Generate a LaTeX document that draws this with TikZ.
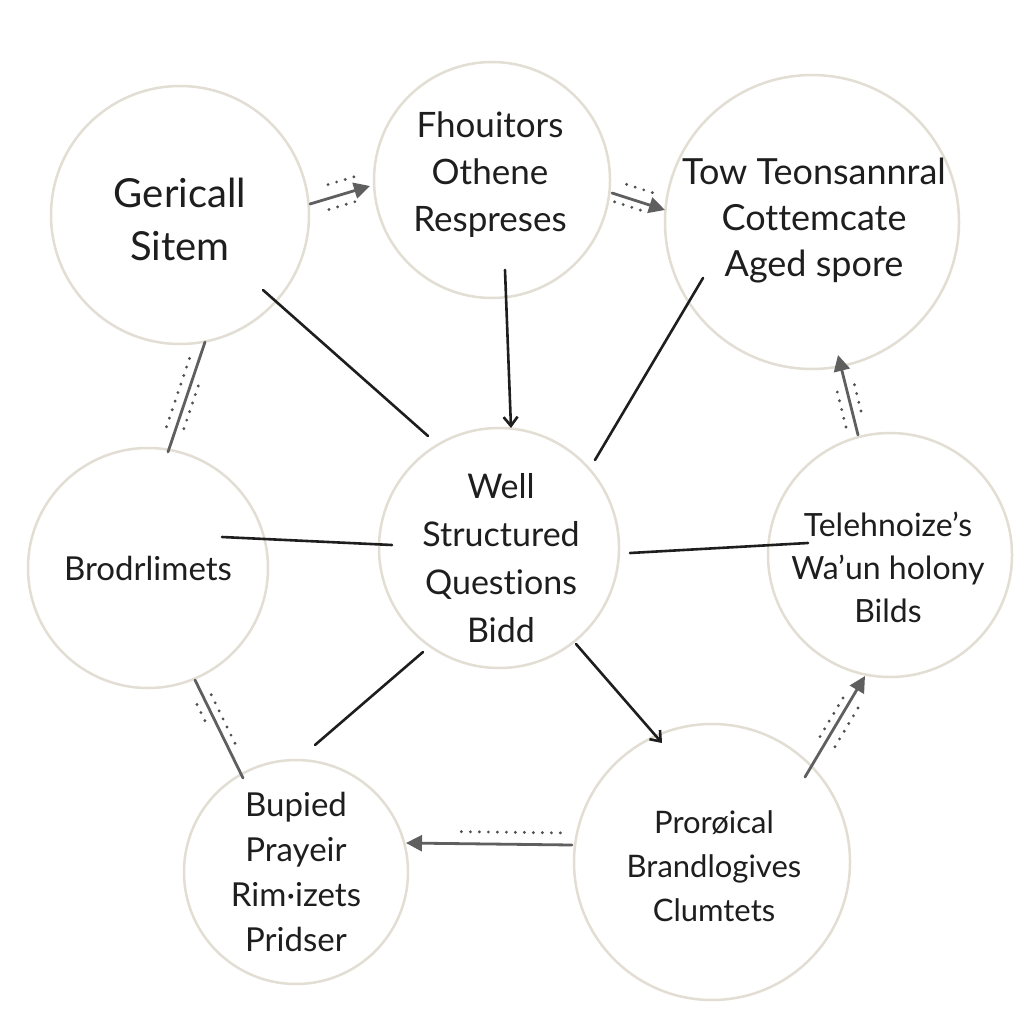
\documentclass[tikz,border=0pt]{standalone}
\usepackage{fontspec}
\setmainfont{Lato}[Ligatures=NoCommon]
\usetikzlibrary{arrows.meta,calc}
\definecolor{ring}{RGB}{226,222,212}
\definecolor{ink}{RGB}{30,30,30}
\definecolor{grayln}{RGB}{95,95,95}
\tikzset{
  bubble/.style={circle, draw=ring, line width=2.5pt, fill=white, inner sep=0pt},
  txt/.style={align=center, text=ink, inner sep=0pt},
  blk/.style={draw=ink, line width=2.6pt, line cap=round},
  gry/.style={draw=grayln, line width=2.8pt, line cap=round},
  dots/.style={draw=grayln!85!black, line width=3.2pt, line cap=round, dash pattern=on 0pt off 9pt},
  tipb/.style={-{Straight Barb[length=9pt,width=14pt,line width=2.6pt]}},
  tipg/.style={-{Triangle[length=16pt,width=16pt]}},
}
\begin{document}
\begin{tikzpicture}[x=1pt,y=-1pt]
\fill[white] (0,0) rectangle (1024,1024);
\useasboundingbox (0,0) rectangle (1024,1024);
% circles
\node[bubble, minimum size=258pt] (c1) at (180,215) {};
\node[bubble, minimum size=236pt] (c2) at (492,180) {};
\node[bubble, minimum size=294pt] (c3) at (812,222) {};
\node[bubble, minimum size=240pt] (c4) at (499,548) {};
\node[bubble, minimum size=240pt] (c5) at (148,568) {};
\node[bubble, minimum size=244pt] (c6) at (890,555) {};
\node[bubble, minimum size=224pt] (c7) at (296,872) {};
\node[bubble, minimum size=276pt] (c8) at (712,862) {};
% texts
\node[txt, font=\fontsize{40}{53}\selectfont] (t1) at ($(c1)+(0,4)$) {Gericall\\Sitem};
\node[txt, font=\fontsize{35}{47}\selectfont] (t2) at ($(c2)+(-2,-5)$) {Fhouitors\\Othene\\Respreses};
\node[txt, font=\fontsize{36}{46}\selectfont] (t3) at ($(c3)+(2,-1)$) {Tow Teonsannral\\Cottemcate\\Aged spore};
\node[txt, font=\fontsize{34}{48}\selectfont] (t4) at ($(c4)+(2,10)$) {Well\\Structured\\Questions\\Bidd};
\node[txt, font=\fontsize{33}{46}\selectfont] (t5) at (c5) {Brodrlimets};
\node[txt, font=\fontsize{32}{43}\selectfont] (t6) at ($(c6)+(-2,12)$) {Telehnoize’s\\Wa’un holony\\Bilds};
\node[txt, font=\fontsize{33}{45}\selectfont] (t7) at (c7) {Bupied\\Prayeir\\Rim·izets\\Pridser};
\node[txt, font=\fontsize{31}{44}\selectfont] (t8) at ($(c8)+(2,4)$) {Prorøical\\Brandlogives\\Clumtets};
% endpoints
\coordinate (a1) at (310,204); \coordinate (a2) at (370,186);
\coordinate (b1) at (612,193); \coordinate (b2) at (665,210);
\coordinate (d1) at (205,342); \coordinate (d2) at (168,452);
\coordinate (e1) at (858,435); \coordinate (e2) at (838,355);
\coordinate (f1) at (195,680); \coordinate (f2) at (243,778);
\coordinate (g1) at (805,777); \coordinate (g2) at (865,676);
\coordinate (h1) at (572,845); \coordinate (h2) at (406,843);
\coordinate (k1) at (263,290); \coordinate (k2) at (428,436);
\coordinate (m1) at (505,270); \coordinate (m2) at (511,428);
\coordinate (n1) at (703,278); \coordinate (n2) at (595,460);
\coordinate (p1) at (222,537); \coordinate (p2) at (392,545);
\coordinate (q1) at (630,553); \coordinate (q2) at (808,543);
\coordinate (r1) at (423,652); \coordinate (r2) at (315,745);
\coordinate (s1) at (576,644); \coordinate (s2) at (662,743);
% gray connectors
\draw[gry,tipg] (a1) -- (a2);
\draw[dots] ($(a1)!0.3!(a2)+(0,-14)$) -- ($(a1)!0.75!(a2)+(0,-14)$);
\draw[dots] ($(a1)!0.25!(a2)+(4,10)$) -- ($(a1)!0.75!(a2)+(4,10)$);
\draw[gry,tipg] (b1) -- (b2);
\draw[dots] ($(b1)!0.2!(b2)+(4,-12)$) -- ($(b1)!0.7!(b2)+(4,-12)$);
\draw[dots] ($(b1)!0.05!(b2)+(0,8)$) -- ($(b1)!0.55!(b2)+(0,8)$);
\draw[gry] (d1) -- (d2);
\draw[dots] ($(d1)!0.15!(d2)+(-10,0)$) -- ($(d1)!0.8!(d2)+(-10,0)$);
\draw[dots] ($(d1)!0.4!(d2)+(8,0)$) -- ($(d1)!0.85!(d2)+(8,0)$);
\draw[gry,tipg] (e1) -- (e2);
\draw[dots] ($(e1)!0.1!(e2)+(-10,0)$) -- ($(e1)!0.6!(e2)+(-10,0)$);
\draw[dots] ($(e1)!0.3!(e2)+(9,0)$) -- ($(e1)!0.7!(e2)+(9,0)$);
\draw[gry] (f1) -- (f2);
\draw[dots] ($(f1)!0.15!(f2)+(9,0)$) -- ($(f1)!0.7!(f2)+(9,0)$);
\draw[dots] ($(f1)!0.25!(f2)+(-10,0)$) -- ($(f1)!0.45!(f2)+(-10,0)$);
\draw[gry,tipg] (g1) -- (g2);
\draw[dots] ($(g1)!0.3!(g2)+(12,0)$) -- ($(g1)!0.75!(g2)+(12,0)$);
\draw[dots] ($(g1)!0.4!(g2)+(-9,0)$) -- ($(g1)!0.8!(g2)+(-9,0)$);
\draw[gry,tipg] (h1) -- (h2);
\draw[dots] ($(h1)!0.07!(h2)+(0,-12)$) -- ($(h1)!0.7!(h2)+(0,-12)$);
% black connectors
\draw[blk] (k1) -- (k2);
\draw[blk,tipb] (m1) -- (m2);
\draw[blk] (n1) -- (n2);
\draw[blk] (p1) -- (p2);
\draw[blk] (q1) -- (q2);
\draw[blk] (r1) -- (r2);
\draw[blk,tipb] (s1) -- (s2);
\end{tikzpicture}
\end{document}
